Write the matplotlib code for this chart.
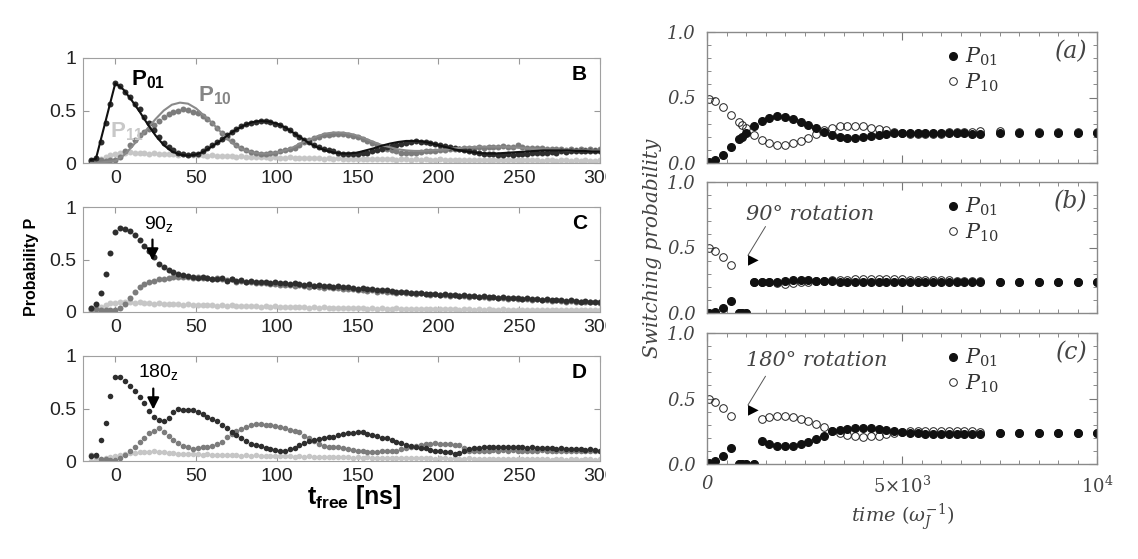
import numpy as np
import matplotlib
matplotlib.use('Agg')
import matplotlib.pyplot as plt
from matplotlib.patches import Rectangle
from matplotlib.font_manager import FontProperties

plt.rcParams['mathtext.fontset'] = 'custom'
plt.rcParams['mathtext.rm'] = 'Liberation Sans'
plt.rcParams['mathtext.bf'] = 'Liberation Sans:bold'
plt.rcParams['mathtext.it'] = 'Liberation Sans:italic'

SANS = 'Liberation Sans'
SERIF = 'DejaVu Serif'

# ---------------- left figure: measured probabilities vs t_free (ns)
t_free = np.arange(-15, 301, 3)

b_p01 = [0.03, 0.05, 0.20, 0.38, 0.56, 0.76, 0.73, 0.68, 0.63, 0.56,
         0.51, 0.44, 0.38, 0.31, 0.25, 0.19, 0.15, 0.12, 0.10, 0.09,
         0.08, 0.085, 0.09, 0.11, 0.14, 0.17, 0.20, 0.23, 0.27, 0.30,
         0.32, 0.35, 0.37, 0.38, 0.39, 0.40, 0.40, 0.39, 0.375, 0.36,
         0.33, 0.31, 0.28, 0.25, 0.22, 0.20, 0.17, 0.15, 0.13, 0.12,
         0.11, 0.10, 0.09, 0.09, 0.085, 0.09, 0.095, 0.10, 0.11, 0.12,
         0.135, 0.15, 0.16, 0.175, 0.185, 0.19, 0.20, 0.205, 0.20, 0.20,
         0.19, 0.185, 0.175, 0.165, 0.155, 0.145, 0.13, 0.12, 0.11, 0.105,
         0.10, 0.09, 0.085, 0.085, 0.08, 0.08, 0.085, 0.08, 0.09, 0.085,
         0.09, 0.095, 0.10, 0.095, 0.10, 0.105, 0.10, 0.11, 0.105, 0.11,
         0.11, 0.115, 0.11, 0.115, 0.11, 0.115]
b_p10 = [0.02, 0.02, 0.025, 0.02, 0.025, 0.03, 0.06, 0.11, 0.17, 0.22,
         0.27, 0.30, 0.32, 0.36, 0.40, 0.44, 0.47, 0.49, 0.50, 0.51,
         0.505, 0.49, 0.48, 0.45, 0.42, 0.38, 0.33, 0.29, 0.25, 0.21,
         0.17, 0.14, 0.12, 0.105, 0.095, 0.09, 0.09, 0.095, 0.10, 0.11,
         0.12, 0.13, 0.145, 0.17, 0.20, 0.22, 0.235, 0.25, 0.265, 0.27,
         0.28, 0.28, 0.275, 0.27, 0.26, 0.25, 0.23, 0.21, 0.19, 0.17,
         0.15, 0.13, 0.12, 0.11, 0.10, 0.095, 0.10, 0.10, 0.105, 0.11,
         0.11, 0.115, 0.12, 0.125, 0.13, 0.13, 0.135, 0.14, 0.145, 0.14,
         0.15, 0.145, 0.15, 0.155, 0.15, 0.16, 0.155, 0.15, 0.17, 0.15,
         0.145, 0.14, 0.145, 0.14, 0.135, 0.13, 0.135, 0.13, 0.125, 0.13,
         0.125, 0.13, 0.125, 0.13, 0.125, 0.13]
b_p11 = [0.01, 0.02, 0.04, 0.06, 0.08, 0.09, 0.10, 0.10, 0.105, 0.10,
         0.095, 0.10, 0.09, 0.095, 0.09, 0.085, 0.09, 0.085, 0.08, 0.085,
         0.08, 0.075, 0.08, 0.075, 0.07, 0.075, 0.07, 0.065, 0.07, 0.065,
         0.06, 0.065, 0.06, 0.06, 0.055, 0.06, 0.055, 0.05, 0.055, 0.05,
         0.05, 0.055, 0.05, 0.045, 0.05, 0.045, 0.05, 0.045, 0.04, 0.045,
         0.04, 0.045, 0.04, 0.04, 0.035, 0.04, 0.04, 0.035, 0.04, 0.035,
         0.035, 0.04, 0.035, 0.03, 0.035, 0.035, 0.03, 0.035, 0.03, 0.035,
         0.03, 0.03, 0.035, 0.03, 0.03, 0.025, 0.03, 0.03, 0.025, 0.03,
         0.03, 0.025, 0.03, 0.025, 0.03, 0.025, 0.025, 0.03, 0.025, 0.025,
         0.03, 0.025, 0.025, 0.02, 0.025, 0.025, 0.02, 0.025, 0.025, 0.02,
         0.025, 0.02, 0.025, 0.02, 0.02, 0.025]

c_p01 = [0.04, 0.08, 0.18, 0.36, 0.56, 0.76, 0.80, 0.79, 0.77, 0.73,
         0.69, 0.63, 0.58, 0.52, 0.46, 0.43, 0.40, 0.38, 0.36, 0.35,
         0.34, 0.33, 0.32, 0.33, 0.32, 0.315, 0.31, 0.32, 0.30, 0.31,
         0.30, 0.305, 0.29, 0.30, 0.29, 0.285, 0.29, 0.28, 0.285, 0.275,
         0.28, 0.27, 0.275, 0.265, 0.26, 0.265, 0.25, 0.255, 0.25, 0.245,
         0.24, 0.245, 0.235, 0.24, 0.23, 0.22, 0.225, 0.215, 0.22, 0.21,
         0.205, 0.21, 0.20, 0.195, 0.19, 0.195, 0.185, 0.18, 0.185, 0.175,
         0.17, 0.175, 0.165, 0.17, 0.16, 0.165, 0.155, 0.16, 0.15, 0.155,
         0.145, 0.15, 0.14, 0.145, 0.135, 0.14, 0.13, 0.135, 0.13, 0.125,
         0.13, 0.12, 0.125, 0.115, 0.12, 0.11, 0.115, 0.11, 0.105, 0.11,
         0.105, 0.10, 0.105, 0.10, 0.10, 0.095]
c_p10 = [0.03, 0.03, 0.02, 0.02, 0.02, 0.02, 0.04, 0.08, 0.13, 0.19,
         0.24, 0.27, 0.29, 0.30, 0.31, 0.315, 0.32, 0.33, 0.33, 0.335,
         0.33, 0.325, 0.33, 0.32, 0.325, 0.315, 0.32, 0.31, 0.305, 0.31,
         0.29, 0.30, 0.285, 0.29, 0.28, 0.275, 0.28, 0.27, 0.265, 0.26,
         0.255, 0.26, 0.25, 0.255, 0.245, 0.24, 0.245, 0.235, 0.23, 0.235,
         0.225, 0.23, 0.22, 0.215, 0.22, 0.205, 0.21, 0.20, 0.205, 0.195,
         0.20, 0.19, 0.195, 0.185, 0.19, 0.18, 0.185, 0.175, 0.18, 0.17,
         0.165, 0.17, 0.16, 0.165, 0.155, 0.16, 0.15, 0.155, 0.145, 0.15,
         0.14, 0.145, 0.135, 0.14, 0.13, 0.135, 0.125, 0.13, 0.12, 0.125,
         0.12, 0.115, 0.12, 0.11, 0.115, 0.105, 0.11, 0.105, 0.10, 0.105,
         0.10, 0.095, 0.10, 0.095, 0.095, 0.09]
c_p11 = [0.01, 0.03, 0.05, 0.07, 0.085, 0.09, 0.10, 0.10, 0.095, 0.09,
         0.095, 0.085, 0.09, 0.08, 0.085, 0.08, 0.075, 0.08, 0.075, 0.07,
         0.075, 0.07, 0.07, 0.065, 0.07, 0.065, 0.06, 0.065, 0.06, 0.065,
         0.06, 0.055, 0.06, 0.055, 0.06, 0.05, 0.055, 0.05, 0.055, 0.05,
         0.045, 0.05, 0.045, 0.05, 0.045, 0.04, 0.045, 0.04, 0.045, 0.04,
         0.04, 0.035, 0.04, 0.035, 0.04, 0.035, 0.035, 0.03, 0.035, 0.03,
         0.035, 0.03, 0.03, 0.035, 0.03, 0.03, 0.025, 0.03, 0.03, 0.025,
         0.03, 0.025, 0.025, 0.03, 0.025, 0.025, 0.02, 0.025, 0.025, 0.02,
         0.025, 0.02, 0.025, 0.02, 0.02, 0.025, 0.02, 0.02, 0.015, 0.02,
         0.02, 0.015, 0.02, 0.02, 0.015, 0.02, 0.015, 0.015, 0.02, 0.015,
         0.015, 0.02, 0.015, 0.015, 0.02, 0.015]

d_p01 = [0.05, 0.06, 0.20, 0.36, 0.62, 0.80, 0.80, 0.76, 0.71, 0.67,
         0.61, 0.55, 0.48, 0.42, 0.39, 0.38, 0.41, 0.47, 0.50, 0.49,
         0.49, 0.49, 0.47, 0.45, 0.42, 0.40, 0.38, 0.34, 0.31, 0.28,
         0.25, 0.22, 0.19, 0.165, 0.15, 0.14, 0.125, 0.115, 0.105, 0.10,
         0.10, 0.11, 0.125, 0.15, 0.17, 0.19, 0.20, 0.21, 0.22, 0.23,
         0.23, 0.25, 0.26, 0.265, 0.27, 0.28, 0.275, 0.26, 0.25, 0.24,
         0.22, 0.215, 0.20, 0.185, 0.17, 0.155, 0.145, 0.135, 0.125, 0.12,
         0.105, 0.10, 0.10, 0.09, 0.085, 0.07, 0.08, 0.10, 0.115, 0.12,
         0.125, 0.13, 0.13, 0.135, 0.13, 0.135, 0.13, 0.135, 0.13, 0.13,
         0.125, 0.13, 0.125, 0.12, 0.125, 0.12, 0.115, 0.12, 0.115, 0.11,
         0.115, 0.11, 0.105, 0.11, 0.105, 0.10]
d_p10 = [0.055, 0.05, 0.02, 0.015, 0.01, 0.005, 0.03, 0.06, 0.10, 0.135,
         0.18, 0.22, 0.265, 0.29, 0.31, 0.28, 0.235, 0.20, 0.17, 0.145,
         0.13, 0.115, 0.12, 0.13, 0.135, 0.145, 0.16, 0.185, 0.225, 0.26,
         0.29, 0.305, 0.325, 0.34, 0.355, 0.355, 0.345, 0.34, 0.33, 0.32,
         0.31, 0.30, 0.29, 0.275, 0.235, 0.215, 0.19, 0.165, 0.145, 0.135,
         0.135, 0.13, 0.12, 0.11, 0.105, 0.10, 0.095, 0.09, 0.09, 0.09,
         0.095, 0.095, 0.10, 0.10, 0.11, 0.12, 0.13, 0.14, 0.15, 0.16,
         0.165, 0.17, 0.165, 0.16, 0.16, 0.155, 0.15, 0.12, 0.10, 0.095,
         0.10, 0.095, 0.10, 0.105, 0.10, 0.105, 0.10, 0.105, 0.10, 0.095,
         0.10, 0.095, 0.10, 0.105, 0.10, 0.095, 0.10, 0.095, 0.10, 0.095,
         0.10, 0.095, 0.10, 0.095, 0.10, 0.095]
d_p11 = [0.0, 0.01, 0.02, 0.03, 0.04, 0.05, 0.06, 0.07, 0.075, 0.08,
         0.085, 0.09, 0.09, 0.095, 0.09, 0.085, 0.08, 0.075, 0.07, 0.07,
         0.065, 0.07, 0.065, 0.06, 0.065, 0.06, 0.06, 0.055, 0.06, 0.055,
         0.055, 0.05, 0.055, 0.05, 0.055, 0.05, 0.05, 0.045, 0.05, 0.045,
         0.05, 0.045, 0.04, 0.045, 0.04, 0.045, 0.04, 0.04, 0.035, 0.04,
         0.035, 0.04, 0.035, 0.035, 0.03, 0.035, 0.03, 0.035, 0.03, 0.03,
         0.03, 0.025, 0.03, 0.03, 0.025, 0.03, 0.025, 0.025, 0.03, 0.025,
         0.025, 0.02, 0.025, 0.025, 0.02, 0.025, 0.02, 0.02, 0.025, 0.02,
         0.02, 0.02, 0.015, 0.02, 0.02, 0.015, 0.02, 0.015, 0.015, 0.02,
         0.015, 0.015, 0.02, 0.015, 0.015, 0.01, 0.015, 0.015, 0.01, 0.015,
         0.015, 0.01, 0.015, 0.015, 0.01, 0.015]

# fitted curves of panel B
fit_t = [-15, -12, 0] + list(range(5, 301, 5))
fit_p01 = [0.03, 0.04, 0.76,
           0.70, 0.60, 0.49, 0.37, 0.26, 0.17, 0.11, 0.08, 0.07, 0.08,
           0.11, 0.16, 0.21, 0.27, 0.32, 0.36, 0.39, 0.40, 0.395, 0.375,
           0.34, 0.29, 0.24, 0.19, 0.15, 0.12, 0.10, 0.09, 0.09, 0.10,
           0.12, 0.14, 0.165, 0.185, 0.20, 0.21, 0.21, 0.205, 0.19, 0.17,
           0.15, 0.13, 0.115, 0.105, 0.095, 0.09, 0.09, 0.095, 0.10, 0.105,
           0.11, 0.115, 0.12, 0.12, 0.12, 0.12, 0.115, 0.115, 0.11, 0.11]
fit_p10 = [0.0, 0.0, 0.02,
           0.07, 0.15, 0.24, 0.33, 0.42, 0.50, 0.555, 0.575, 0.565, 0.52,
           0.45, 0.38, 0.30, 0.22, 0.16, 0.12, 0.10, 0.09, 0.09, 0.10,
           0.12, 0.15, 0.19, 0.22, 0.255, 0.28, 0.29, 0.29, 0.28, 0.26,
           0.23, 0.20, 0.17, 0.15, 0.13, 0.12, 0.115, 0.115, 0.12, 0.125,
           0.13, 0.14, 0.145, 0.15, 0.155, 0.155, 0.155, 0.155, 0.15, 0.145,
           0.14, 0.135, 0.13, 0.125, 0.125, 0.12, 0.12, 0.12, 0.12, 0.12]

# ---------------- right figure: simulated switching probability vs time
sim_t = [60, 200, 400, 625, 820, 895, 1000,
         1200, 1400, 1600, 1800, 2000, 2200, 2400, 2600, 2800, 3000,
         3200, 3400, 3600, 3800, 4000, 4200, 4400, 4600, 4800, 5000,
         5200, 5400, 5600, 5800, 6000, 6200, 6400, 6600, 6800, 7000,
         7500, 8000, 8500, 9000, 9500, 10000]

a_p01 = [0.01, 0.02, 0.06, 0.12, 0.18, 0.20, 0.23,
         0.28, 0.32, 0.345, 0.355, 0.35, 0.335, 0.315, 0.29, 0.265, 0.235,
         0.21, 0.195, 0.19, 0.19, 0.195, 0.205, 0.215, 0.225, 0.23, 0.23,
         0.23, 0.232, 0.232, 0.232, 0.23, 0.23, 0.228, 0.228, 0.225, 0.225,
         0.23, 0.23, 0.228, 0.23, 0.23, 0.228]
a_p10 = [0.49, 0.47, 0.43, 0.37, 0.31, 0.29, 0.265,
         0.21, 0.175, 0.15, 0.14, 0.14, 0.15, 0.165, 0.19, 0.22, 0.25,
         0.265, 0.28, 0.285, 0.285, 0.28, 0.27, 0.26, 0.25, 0.24, 0.232,
         0.225, 0.222, 0.222, 0.222, 0.225, 0.235, 0.238, 0.24, 0.24, 0.242,
         0.245, 0.24, 0.24, 0.238, 0.24, 0.235]

rb_p01 = [0.0, 0.01, 0.035, 0.09, 0.0, 0.0, 0.0,
          0.235, 0.235, 0.24, 0.24, 0.245, 0.25, 0.25, 0.25, 0.248, 0.245,
          0.243, 0.24, 0.24, 0.238, 0.235, 0.235, 0.236, 0.235, 0.235, 0.234,
          0.235, 0.235, 0.236, 0.235, 0.235, 0.234, 0.235, 0.235, 0.236, 0.235,
          0.235, 0.235, 0.235, 0.235, 0.234, 0.235]
rb_p10 = [0.495, 0.47, 0.43, 0.365, 0.0, 0.0, 0.0,
          0.235, 0.235, 0.235, 0.232, 0.225, 0.228, 0.24, 0.24, 0.245, 0.245,
          0.25, 0.252, 0.255, 0.258, 0.258, 0.258, 0.258, 0.258, 0.258, 0.258,
          0.255, 0.255, 0.255, 0.255, 0.252, 0.25, 0.248, 0.245, 0.245, 0.242,
          0.24, 0.238, 0.238, 0.236, 0.24, 0.236]

rc_p01 = [0.01, 0.02, 0.06, 0.12, 0.0, 0.0, 0.0,
          0.0, 0.175, 0.155, 0.14, 0.135, 0.14, 0.15, 0.165, 0.19, 0.215,
          0.25, 0.26, 0.27, 0.275, 0.275, 0.275, 0.27, 0.258, 0.25, 0.245,
          0.24, 0.235, 0.232, 0.23, 0.23, 0.23, 0.23, 0.232, 0.232, 0.232,
          0.235, 0.235, 0.235, 0.235, 0.235, 0.235]
rc_p10 = [0.50, 0.47, 0.425, 0.37, 0.0, 0.0, 0.0,
          0.0, 0.345, 0.362, 0.368, 0.368, 0.36, 0.345, 0.33, 0.305, 0.28,
          0.255, 0.235, 0.22, 0.21, 0.207, 0.21, 0.217, 0.228, 0.235, 0.242,
          0.25, 0.252, 0.253, 0.253, 0.253, 0.253, 0.252, 0.25, 0.25, 0.248,
          0.24, 0.235, 0.235, 0.235, 0.235, 0.235]

DARK = '#2e2e2e'
MID = '#7c7c7c'
LIGHT = '#c6c6c6'
TXT = '#444444'

W, H = 1138, 559
fig = plt.figure(figsize=(W / 100, H / 100), dpi=100)


def box(x0, y0, x1, y1):
    # pixel box (top-left origin) -> figure fraction rect
    return [x0 / W, 1 - y1 / H, (x1 - x0) / W, (y1 - y0) / H]


def left_panel(rect, letter):
    ax = fig.add_axes(box(*rect))
    ax.set_xlim(-20, 299)
    ax.set_ylim(0, 1)
    ax.set_xticks([0, 50, 100, 150, 200, 250, 300])
    ax.set_xticklabels(['0', '50', '100', '150', '200', '250', '300'],
                       family=SANS, fontsize=14)
    ax.set_yticks([0, 0.5, 1])
    ax.set_yticklabels(['0', '0.5', '1'], family=SANS, fontsize=14)
    ax.tick_params(direction='in', top=True, right=True, length=4,
                   color='#999999', labelcolor='#222222', pad=5)
    for s in ax.spines.values():
        s.set_color('#a0a0a0')
    ax.text(0.975, 0.93, letter, transform=ax.transAxes, ha='right', va='top',
            fontsize=15, fontweight='bold', family=SANS)
    return ax


def dots(ax, p11, p10, p01, ms=4.3):
    ax.plot(t_free, p11, 'o', ms=ms, color=LIGHT, mec='none')
    ax.plot(t_free, p10, 'o', ms=ms, color=MID, mec='none')
    ax.plot(t_free, p01, 'o', ms=ms, color=DARK, mec='none')


axB = left_panel((83, 58, 600, 163), 'B')
dots(axB, b_p11, b_p10, b_p01)
axB.plot(fit_t, fit_p10, '-', color='#8a8a8a', lw=1.5)
axB.plot(fit_t, fit_p01, '-', color='#111111', lw=1.5)
axB.text(9.5, 0.79, r'$\mathbf{P}_{\mathbf{01}}$', fontsize=16, color='black', va='center')
axB.text(51, 0.64, r'$\mathbf{P}_{\mathbf{10}}$', fontsize=16, color='#858585', va='center')
axB.text(-3.5, 0.30, r'$\mathbf{P}_{\mathbf{11}}$', fontsize=16, color='#c8c8c8', va='center')

axC = left_panel((83, 207, 600, 312), 'C')
dots(axC, c_p11, c_p10, c_p01)
axC.text(18, 0.84, r'90$_\mathrm{z}$', fontsize=14, family=SANS, va='center')
axC.annotate('', xy=(23, 0.49), xytext=(23, 0.69),
             arrowprops=dict(arrowstyle='-|>,head_length=0.5,head_width=0.25',
                             color='black', lw=1.6, shrinkA=0, shrinkB=0, mutation_scale=14))

axD = left_panel((83, 356, 600, 461), 'D')
dots(axD, d_p11, d_p10, d_p01, ms=4.0)
axD.text(14, 0.85, r'180$_\mathrm{z}$', fontsize=14, family=SANS, va='center')
axD.annotate('', xy=(23.5, 0.49), xytext=(23.5, 0.69),
             arrowprops=dict(arrowstyle='-|>,head_length=0.5,head_width=0.25',
                             color='black', lw=1.6, shrinkA=0, shrinkB=0, mutation_scale=14))
axD.text(148, -0.34, r'$\mathbf{t}_{\mathbf{free}}$ [ns]', transform=axD.get_xaxis_transform(),
         fontsize=18, fontweight='bold', family=SANS, ha='center', va='center',
         bbox=dict(facecolor='white', edgecolor='none', pad=1))

fig.text(32 / W, 1 - 267 / H, 'Probability P', rotation=90, ha='center', va='center',
         fontsize=11.5, fontweight='bold', family=SANS)

# the left picture is cut off at its right side by the right picture
fig.patches.append(Rectangle((606 / W, 0), (700 - 606) / W, 1, transform=fig.transFigure,
                             facecolor='white', edgecolor='none', zorder=2))

# ---------------- right panels
serif_it = FontProperties(family=SERIF, style='italic', size=15, math_fontfamily='dejavuserif')


def right_panel(rect, tag, bottom_labels=False):
    ax = fig.add_axes(box(*rect), zorder=5)
    ax.set_xlim(0, 10000)
    ax.set_ylim(0, 1)
    ax.set_xticks([0, 5000, 10000])
    ax.set_xticks(np.arange(0, 10001, 500), minor=True)
    ax.set_yticks([0, 0.5, 1.0])
    ax.set_yticks(np.arange(0, 1.001, 0.1), minor=True)
    ax.set_yticklabels(['0.0', '0.5', '1.0'], family=SERIF, style='italic', fontsize=13)
    if bottom_labels:
        ax.set_xticklabels(['0', r'$\mathit{5}{\times}\mathit{10}^{\mathit{3}}$',
                            r'$\mathit{10}^{\mathit{4}}$'],
                           family=SERIF, style='italic', fontsize=13,
                           math_fontfamily='dejavuserif')
    else:
        ax.set_xticklabels([])
    ax.tick_params(which='both', direction='in', top=True, right=True,
                   color='#777777', labelcolor=TXT)
    ax.tick_params(which='major', length=6, pad=8)
    ax.tick_params(which='minor', length=3)
    for s in ax.spines.values():
        s.set_color('#8a8a8a')
        s.set_linewidth(1.0)
    ax.text(0.975, 0.85, tag, transform=ax.transAxes, ha='right', va='center',
            family=SERIF, style='italic', fontsize=17, color=TXT)
    return ax


def sim_points(ax, p01, p10):
    h10, = ax.plot(sim_t, p10, 'o', ms=5.5, mfc='none', mec='#222222', mew=0.7)
    h01, = ax.plot(sim_t, p01, 'o', ms=5.5, color='#111111', mec='#111111')
    ax.legend([h01, h10], [r'$P_{\mathit{01}}$', r'$P_{\mathit{10}}$'],
              loc='upper left', bbox_to_anchor=(0.585, 0.99), frameon=False,
              handlelength=0.5, handletextpad=0.35, labelspacing=0.15,
              borderaxespad=0.2, prop=serif_it, labelcolor='#333333')


def rotation_note(ax, label, y_text, tail, head):
    # thin pointer line ending in a right-pointing triangle, IDL style
    ax.text(1000, y_text, label, family=SERIF, style='italic', fontsize=15,
            color=TXT, va='center')
    ax.annotate('', xy=head, xytext=tail,
                arrowprops=dict(arrowstyle='-', color='#555555', lw=0.7,
                                shrinkA=0, shrinkB=0))
    ax.text(head[0], head[1] - 0.03, '\u25b6', family='DejaVu Sans', fontsize=10,
            color='black', ha='left', va='center')


axa = right_panel((707, 32, 1097, 163), '(a)')
sim_points(axa, a_p01, a_p10)

axb = right_panel((707, 182, 1097, 313), '(b)')
sim_points(axb, rb_p01, rb_p10)
rotation_note(axb, '90° rotation', 0.75, (1500, 0.66), (1050, 0.44))

axc = right_panel((707, 333, 1097, 464), '(c)', bottom_labels=True)
sim_points(axc, rc_p01, rc_p10)
rotation_note(axc, '180° rotation', 0.79, (1500, 0.67), (1050, 0.45))

fig.text(653 / W, 1 - 248 / H, 'Switching probability', rotation=90, ha='center', va='center',
         family=SERIF, style='italic', fontsize=14.5, color=TXT, zorder=6)
fig.text(903 / W, 1 - 517 / H, r'time $(\omega_{\mathit{J}}^{\mathit{-1}})$', ha='center',
         va='center', family=SERIF, style='italic', fontsize=14, color=TXT,
         math_fontfamily='dejavuserif', zorder=6)

fig.savefig('out.png', dpi=100, facecolor='white')
